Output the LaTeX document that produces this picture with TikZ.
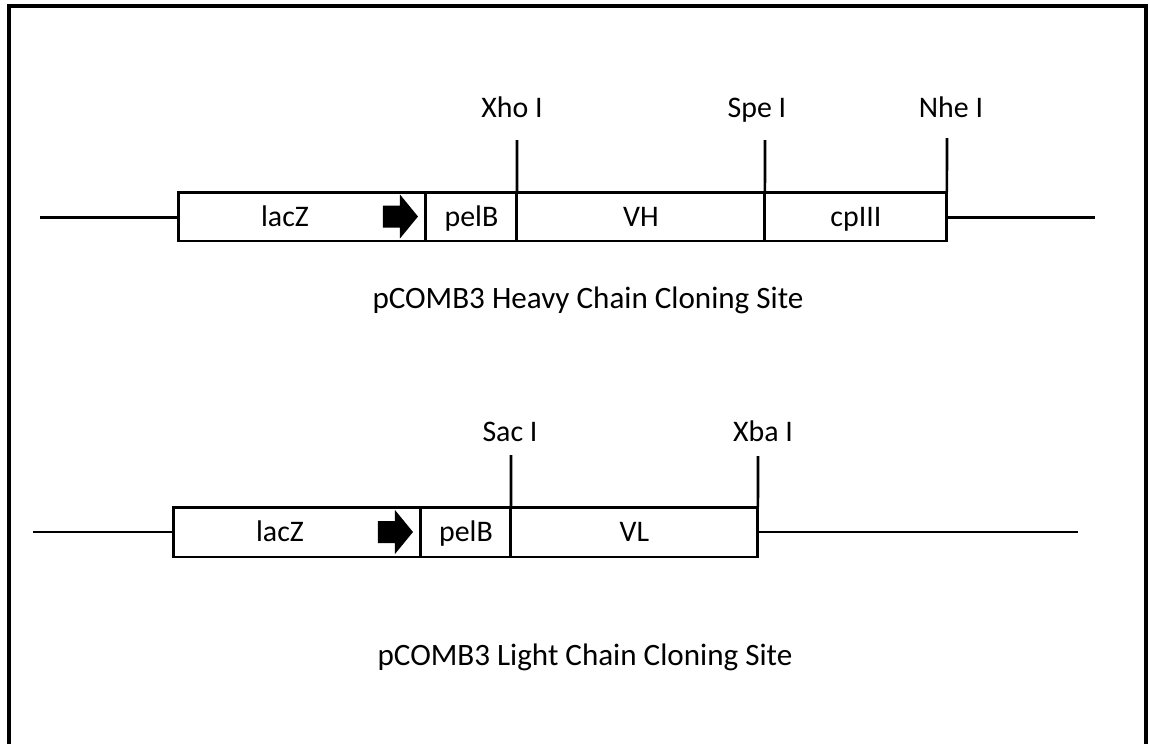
\documentclass[tikz,border=0pt]{standalone}
\usepackage{fontspec}
\setmainfont{Carlito}
\usetikzlibrary{positioning,calc}

\tikzset{
  every node/.style={font=\fontsize{17}{20}\selectfont},
  seg/.style={draw,line width=1.7pt,outer sep=0pt,inner sep=0pt,minimum height=0.98cm,text height=11pt,text depth=0pt},
  wire/.style={line width=1.5pt},
  site/.style={anchor=base,inner sep=0pt},
  caption/.style={anchor=base,inner sep=0pt,font=\fontsize{17.7}{21}\selectfont},
  promoter/.style={fill=black}
}

\begin{document}
\begin{tikzpicture}[x=0.02cm,y=-0.02cm]
			\useasboundingbox (0,0) rectangle (1150,744);
			\draw[line width=1.8pt] (9,744) -- (9,6) -- (1146,6) -- (1146,744);
			
			% heavy chain
			\node[seg,minimum width=4.96cm,label={[xshift=-0.34cm,text height=11pt,text depth=0pt]center:lacZ}] (lacZH) at (302,216.5) {};
			\node[seg,minimum width=1.82cm,right=0pt of lacZH] (pelBH) {pelB};
			\node[seg,minimum width=4.96cm,right=0pt of pelBH] (VH) {VH};
			\node[seg,minimum width=3.64cm,right=0pt of VH] (cpIII) {cpIII};
			\fill[promoter] ($(lacZH.east)+(-43,-11)$) -- ++(17,0) -- ++(0,-11) -- ++(18,22) -- ++(-18,22) -- ++(0,-11) -- ++(-17,0) -- cycle;
			
			\coordinate (hL) at (40,217.5);
			\coordinate (hR) at (1095,217.5);
			\draw[wire] (hL) -- (hL -| lacZH.west);
			\draw[wire] (hR -| cpIII.east) -- (hR);
			
			\coordinate (xhoT) at (517,140);
			\coordinate (speT) at (765,140);
			\coordinate (nheT) at (947,138);
			\draw[wire] (xhoT) -- (VH.north west);
			\draw[wire] (speT) -- (cpIII.north west);
			\draw[wire] (nheT) -- (cpIII.north east);
			\node[site] (xho) at (512,117) {Xho I};
			\node[site] (spe) at (757,117) {Spe I};
			\node[site] (nhe) at (951,117) {Nhe I};
			
			\node[caption] (capH) at (588,308) {pCOMB3 Heavy Chain Cloning Site};
			
			% light chain
			\node[seg,minimum width=4.96cm,minimum height=1.0cm,label={[xshift=-0.34cm,text height=11pt,text depth=0pt]center:lacZ}] (lacZL) at (297,532) {};
			\node[seg,minimum width=1.8cm,minimum height=1.0cm,right=0pt of lacZL] (pelBL) {pelB};
			\node[seg,minimum width=4.94cm,minimum height=1.0cm,right=0pt of pelBL] (VL) {VL};
			\fill[promoter] ($(lacZL.east)+(-43,-11)$) -- ++(17,0) -- ++(0,-11) -- ++(18,22) -- ++(-18,22) -- ++(0,-11) -- ++(-17,0) -- cycle;
			
			\coordinate (lL) at (33,532);
			\coordinate (lR) at (1078,532);
			\draw[wire] (lL) -- (lacZL.west);
			\draw[wire] (VL.east) -- (lR);
			
			\coordinate (sacT) at (511,455);
			\coordinate (xbaT) at (758,456);
			\draw[wire] (sacT) -- (VL.north west);
			\draw[wire] (xbaT) -- (VL.north east);
			\node[site] (sac) at (510,441) {Sac I};
			\node[site] (xba) at (763,441) {Xba I};
			
			\node[caption] (capL) at (585,665) {pCOMB3 Light Chain Cloning Site};
		\end{tikzpicture}
\end{document}
